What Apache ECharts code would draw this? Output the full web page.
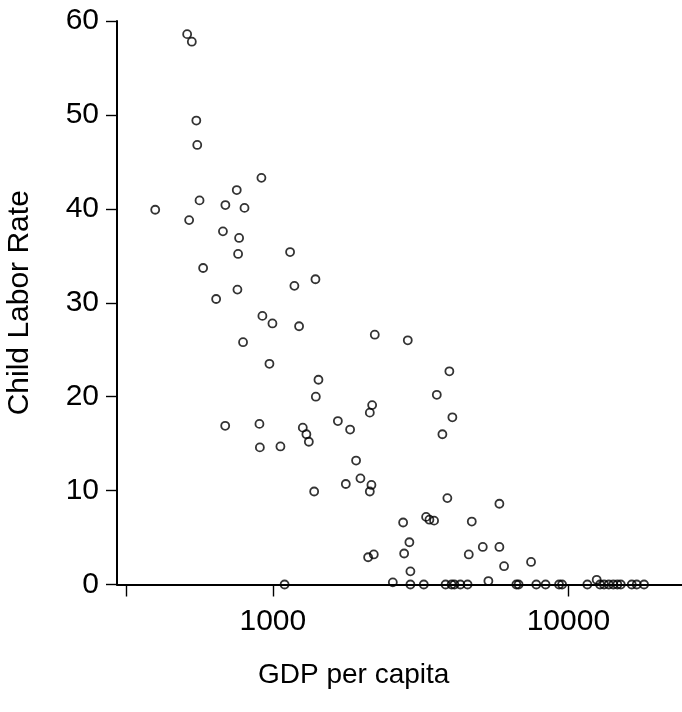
<!DOCTYPE html>
<html>
<head>
<meta charset="utf-8">
<script src="https://cdn.jsdelivr.net/npm/echarts@6/dist/echarts.min.js"></script>
<style>
  html, body { margin: 0; padding: 0; background: #fff; }
  #chart { width: 682px; height: 712px; }
</style>
</head>
<body>
<div id="chart"></div>
<script>
// GDP per capita (log x) vs child labour rate, one hollow circle per country.
const gdp = [
  513, 532, 551, 555, 915, 755, 565, 400, 691, 802,
  521, 678, 769, 763, 1144, 581, 759, 1183, 1394, 643,
  922, 997, 1227, 793, 974, 1427, 1398, 690, 901, 904,
  1061, 1263, 1299, 1324, 1660, 1826, 1913, 1979, 1766, 2156,
  2129, 1380, 2213, 2862, 3957, 3588, 2168, 2129, 4051, 3748,
  3896, 5843, 3301, 3387, 3513, 2760, 4712, 2898, 5134, 5843,
  2101, 2196, 2782, 4603, 6060, 7478, 2921, 2547, 5363, 1096,
  12470,
  2921, 3242, 3842, 4026, 4115, 4311, 4560, 6670, 6785, 7789,
  8374, 9301, 9522, 11594, 12800, 13207, 13699, 14196, 14648, 15042,
  16387, 17037, 18036
];
const rate = [
  58.6, 57.8, 49.4, 46.8, 43.3, 42.0, 40.9, 39.9, 40.4, 40.1,
  38.8, 37.6, 36.9, 35.2, 35.4, 33.7, 31.4, 31.8, 32.5, 30.4,
  28.6, 27.8, 27.5, 25.8, 23.5, 21.8, 20.0, 16.9, 17.1, 14.6,
  14.7, 16.7, 16.0, 15.2, 17.4, 16.5, 13.2, 11.3, 10.7, 10.6,
  9.9, 9.9, 26.6, 26.0, 22.7, 20.2, 19.1, 18.3, 17.8, 16.0,
  9.2, 8.6, 7.2, 6.9, 6.8, 6.6, 6.7, 4.5, 4.0, 4.0,
  2.9, 3.2, 3.3, 3.2, 1.95, 2.4, 1.4, 0.23, 0.37, 0,
  0.5,
  0, 0, 0, 0, 0, 0, 0, 0, 0, 0,
  0, 0, 0, 0, 0, 0, 0, 0, 0, 0,
  0, 0, 0
];
const xTicks = [318, 1000, 10000];
const xLabels = [1000, 10000];
const yTicks = [0, 10, 20, 30, 40, 50, 60];

const points = gdp.map((g, i) => [g, rate[i]]);
const font = 'Liberation Sans, Arial, Helvetica, sans-serif';

const chart = echarts.init(document.getElementById('chart'), null, { renderer: 'canvas' });
chart.setOption({
  animation: false,
  backgroundColor: '#fff',
  grid: { left: 117, right: 0, top: 21, bottom: 127.5, containLabel: false, outerBoundsMode: 'none' },
  xAxis: {
    type: 'log', logBase: 10, min: 297, max: 24240,
    axisLine: { onZero: false, lineStyle: { color: '#000', width: 2 } },
    axisTick: { length: 12, lineStyle: { color: '#000', width: 1.4 }, customValues: xTicks },
    axisLabel: {
      customValues: xLabels, margin: 22, color: '#000',
      fontFamily: font, fontSize: 30,
      formatter: (v) => String(Math.round(v))
    },
    splitLine: { show: false }, minorTick: { show: false }
  },
  yAxis: {
    type: 'value', min: 0, max: 60, interval: 10,
    name: 'Child Labor Rate', nameLocation: 'middle', nameGap: 82, nameRotate: 90,
    nameTextStyle: { color: '#000', fontFamily: font, fontSize: 30 },
    axisLine: { show: true, lineStyle: { color: '#000', width: 2 } },
    axisTick: { show: true, length: 11, lineStyle: { color: '#000', width: 1.4 }, customValues: yTicks },
    axisLabel: { margin: 18, color: '#000', fontFamily: font, fontSize: 30, padding: [0, 0, 11, 0] },
    splitLine: { show: false }
  },
  graphic: [{
    type: 'text', left: 258, top: 661,
    style: { text: 'GDP per capita', fill: '#000', font: '28px ' + font }
  }],
  series: [{
    type: 'scatter',
    data: points,
    symbol: 'circle', symbolSize: 8,
    itemStyle: { color: 'rgba(0,0,0,0)', borderColor: '#000', borderWidth: 1.8 },
    emphasis: { disabled: true }
  }]
});
</script>
</body>
</html>
